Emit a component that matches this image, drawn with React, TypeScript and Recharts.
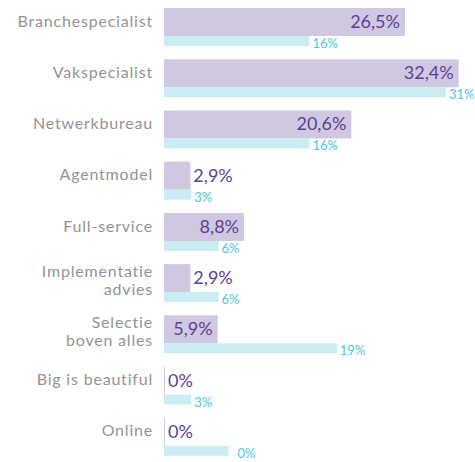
import { BarChart, Bar, XAxis, YAxis, LabelList } from 'recharts'

const categories = [
  'Branchespecialist',
  'Vakspecialist',
  'Netwerkbureau',
  'Agentmodel',
  'Full-service',
  'Implementatie\nadvies',
  'Selectie\nboven alles',
  'Big is beautiful',
  'Online',
]
const purpleValues = [26.5, 32.4, 20.6, 2.9, 8.8, 2.9, 5.9, 0, 0]
const purpleLabels = ['26,5%', '32,4%', '20,6%', '2,9%', '8,8%', '2,9%', '5,9%', '0%', '0%']
const cyanValues = [16, 31, 16, 3, 6, 6, 19, 3, 7.1]
const cyanLabels = ['16%', '31%', '16%', '3%', '6%', '6%', '19%', '3%', '0%']

const data = categories.map((name, i) => ({
  name,
  purple: purpleValues[i],
  cyan: cyanValues[i],
}))

const FONT = 'Lato, "Open Sans", sans-serif'

const CategoryTick = (props: any) => {
  const { x, y, payload } = props
  const lines = String(payload.value).split('\n')
  return (
    <text x={x} y={y} textAnchor="end" fill="#939393" fontSize={16} letterSpacing={0.8} fontFamily={FONT}>
      {lines.length === 1 ? (
        <tspan x={x} dy={0}>{lines[0]}</tspan>
      ) : (
        lines.map((l, i) => (
          <tspan key={i} x={x} dy={i === 0 ? -6 : 18}>{l}</tspan>
        ))
      )}
    </text>
  )
}

const PurpleLabel = (props: any) => {
  const { x, y, width, height, index } = props
  const inside = width > 45
  return (
    <text
      x={inside ? x + width - 5 : x + width + 3}
      y={y + height / 2 + 6}
      textAnchor={inside ? 'end' : 'start'}
      fill="#5b3f96"
      fontSize={18}
      fontFamily={FONT}
    >
      {purpleLabels[index]}
    </text>
  )
}

const CyanLabel = (props: any) => {
  const { x, y, width, height, index } = props
  const shift = cyanLabels[index] === '0%' && cyanValues[index] > 0 ? 9 : 3
  return (
    <text
      x={x + width + shift}
      y={y + height / 2 + 7}
      textAnchor="start"
      fill="#4cc6df"
      fontSize={13}
      fontFamily={FONT}
    >
      {cyanLabels[index]}
    </text>
  )
}

export default function App() {
  return (
    <div style={{ position: 'absolute', left: 0, top: 0, width: 475, height: 462, background: '#fff' }}>
      <BarChart
        width={475}
        height={462}
        data={data}
        layout="vertical"
        margin={{ top: 1, right: 0, bottom: 0, left: 0 }}
        barGap={0}
      >
        <XAxis type="number" domain={[0, 34.2]} hide />
        <YAxis
          type="category"
          dataKey="name"
          width={164}
          axisLine={false}
          tickLine={false}
          tickSize={0}
          tickMargin={11}
          tick={<CategoryTick />}
          interval={0}
        />
        <Bar dataKey="purple" fill="#d0c8e1" barSize={28} minPointSize={1} isAnimationActive={false}>
          <LabelList dataKey="purple" content={<PurpleLabel />} />
        </Bar>
        <Bar dataKey="cyan" fill="#cbedf1" barSize={10} isAnimationActive={false}>
          <LabelList dataKey="cyan" content={<CyanLabel />} />
        </Bar>
      </BarChart>
    </div>
  )
}
